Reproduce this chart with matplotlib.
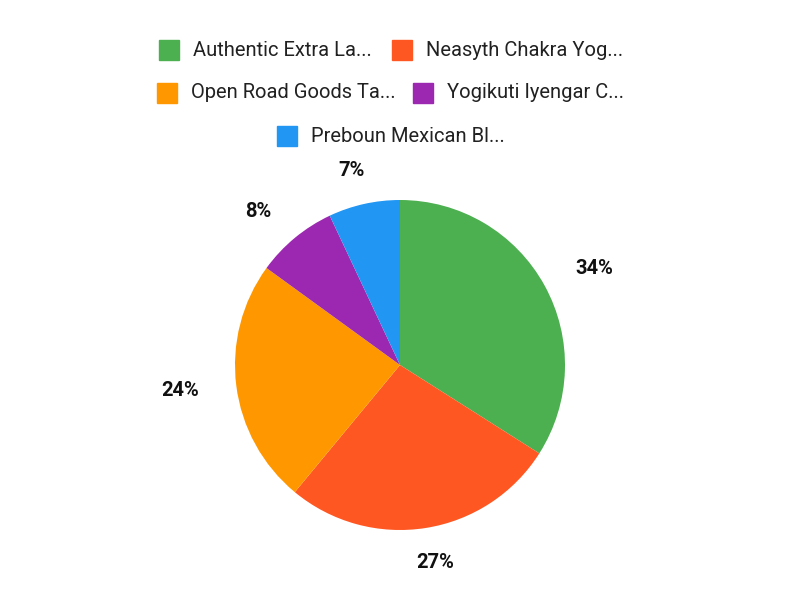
import matplotlib
matplotlib.use("Agg")
import matplotlib.pyplot as plt
import numpy as np
from matplotlib.patches import Rectangle

plt.rcParams['font.family'] = ['Roboto', 'DejaVu Sans']

labels = ["Authentic Extra La...", "Neasyth Chakra Yog...", "Open Road Goods Ta...",
          "Yogikuti Iyengar C...", "Preboun Mexican Bl..."]
values = [34, 27, 24, 8, 7]
colors = ["#4CAF50", "#FF5722", "#FF9800", "#9C27B0", "#2196F3"]

fig = plt.figure(figsize=(8, 6), dpi=100)
W, H = 800, 600
r = 165
cx, cy = 400, 365
ax = fig.add_axes([(cx - r) / W, (H - cy - r) / H, 2 * r / W, 2 * r / H])
wedges, texts = ax.pie(
    values, colors=colors, startangle=90, counterclock=False, radius=1,
    wedgeprops=dict(linewidth=0))

# percentage labels placed outside each slice
vals = np.array(values, dtype=float)
fracs = vals / vals.sum()
mids = 90 - 360 * (np.cumsum(fracs) - fracs / 2)
for f, a in zip(fracs, np.deg2rad(mids)):
    ax.text(1.345 * np.cos(a), 1.21 * np.sin(a), f"{f * 100:.0f}%",
            ha='center', va='center', fontsize=14.5, fontweight='bold',
            color='#111111', clip_on=False)

ax.set_xlim(-1, 1)
ax.set_ylim(-1, 1)
ax.set_aspect('equal')
ax.axis('off')

# legend (manual layout, rows centered)
rows = [(0, 1), (2, 3), (4,)]
row_y = [50, 93, 136]
sq_x = [[159, 392], [157, 413], [277]]
for ri, idxs in enumerate(rows):
    for j, i in enumerate(idxs):
        x0 = sq_x[ri][j]
        y0 = row_y[ri]
        fig.patches.append(Rectangle((x0 / W, 1 - (y0 + 10) / H), 20 / W, 20 / H,
                                     transform=fig.transFigure, color=colors[i]))
        fig.text((x0 + 34) / W, 1 - y0 / H, labels[i], fontsize=14.5,
                 ha='left', va='center', color='#212121')

fig.savefig("out.png", dpi=100)
